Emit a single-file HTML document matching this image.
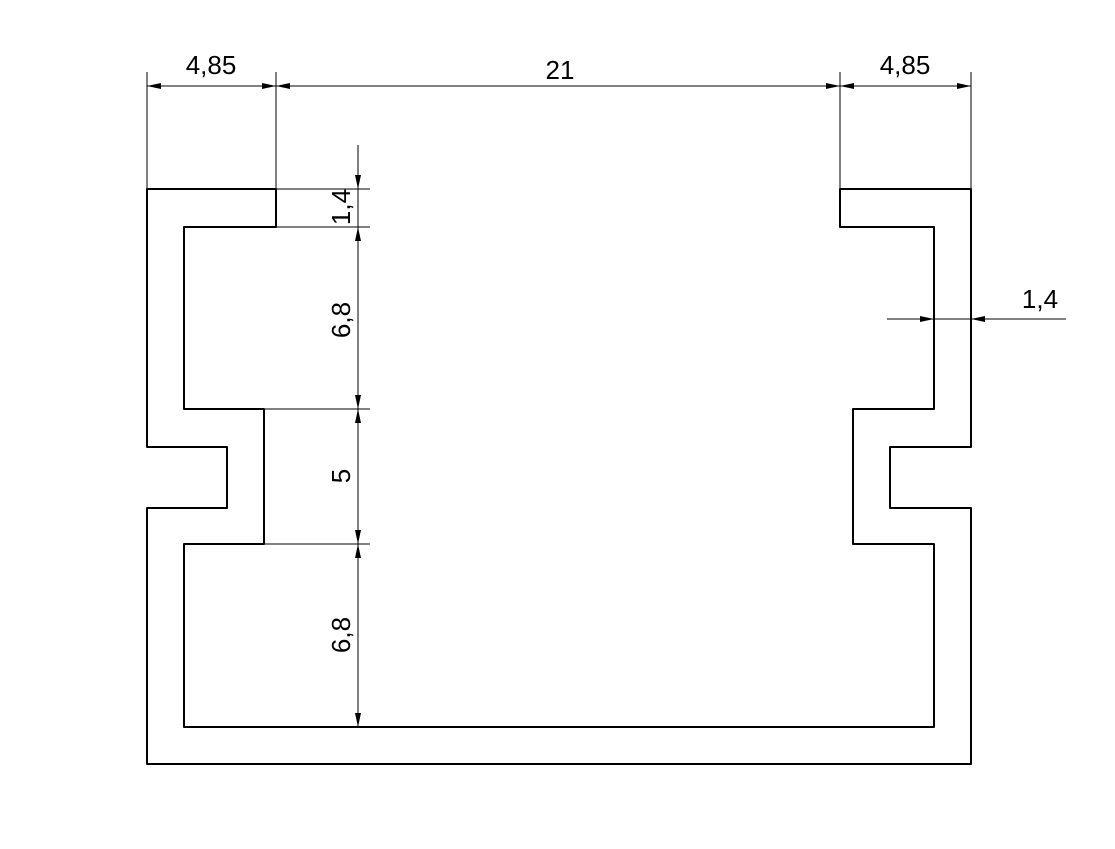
<!DOCTYPE html>
<html><head><style>body{margin:0;background:#fff}svg{display:block}</style></head><body>
<svg width="1115" height="849" viewBox="0 0 1115 849" xmlns="http://www.w3.org/2000/svg" font-family="Liberation Sans, sans-serif" font-size="26">
<defs>
<marker id="a" viewBox="0 0 14 6" refX="14" refY="3" markerWidth="14" markerHeight="6" orient="auto" markerUnits="userSpaceOnUse"><path d="M0,0 L14,3 L0,6 Z" fill="#000"/></marker>
</defs>
<path d="M147,189 H276 V227 H184 V409 H264 V544 H184 V727 H934 V544 H853 V409 H934 V227 H840 V189 H971 V447 H890 V508 H971 V764 H147 V508 H227 V447 H147 Z" fill="none" stroke="#000" stroke-width="2" stroke-linejoin="round"/>
<g stroke="#000" stroke-width="1" fill="none">
<line x1="147" y1="72" x2="147" y2="189"/><line x1="276" y1="72" x2="276" y2="189"/>
<line x1="840" y1="72" x2="840" y2="189"/><line x1="971" y1="72" x2="971" y2="189"/>
<line x1="211" y1="86" x2="147" y2="86" marker-end="url(#a)"/><line x1="211" y1="86" x2="276" y2="86" marker-end="url(#a)"/>
<line x1="560" y1="86" x2="276" y2="86" marker-end="url(#a)"/><line x1="560" y1="86" x2="840" y2="86" marker-end="url(#a)"/>
<line x1="905" y1="86" x2="840" y2="86" marker-end="url(#a)"/><line x1="905" y1="86" x2="971" y2="86" marker-end="url(#a)"/>
<line x1="276" y1="189" x2="370" y2="189"/><line x1="276" y1="227" x2="370" y2="227"/>
<line x1="264" y1="409" x2="370" y2="409"/><line x1="264" y1="544" x2="370" y2="544"/>
<line x1="358" y1="145" x2="358" y2="727"/>
<line x1="358" y1="145" x2="358" y2="189" marker-end="url(#a)"/>
<line x1="358" y1="270" x2="358" y2="227" marker-end="url(#a)"/>
<line x1="358" y1="318" x2="358" y2="409" marker-end="url(#a)"/>
<line x1="358" y1="476" x2="358" y2="409" marker-end="url(#a)"/><line x1="358" y1="476" x2="358" y2="544" marker-end="url(#a)"/>
<line x1="358" y1="635" x2="358" y2="544" marker-end="url(#a)"/><line x1="358" y1="635" x2="358" y2="727" marker-end="url(#a)"/>
<line x1="887" y1="319" x2="1066" y2="319"/>
<line x1="887" y1="319" x2="934" y2="319" marker-end="url(#a)"/>
<line x1="1066" y1="319" x2="971" y2="319" marker-end="url(#a)"/>
</g>
<g fill="#000" text-anchor="middle">
<text x="211" y="74">4,85</text><text x="560" y="79">21</text><text x="905" y="74">4,85</text>
<text x="1040" y="308">1,4</text>
<text transform="translate(350,207) rotate(-90)">1,4</text>
<text transform="translate(350,320) rotate(-90)">6,8</text>
<text transform="translate(350,476) rotate(-90)">5</text>
<text transform="translate(350,635) rotate(-90)">6,8</text>
</g>
</svg>
</body></html>
